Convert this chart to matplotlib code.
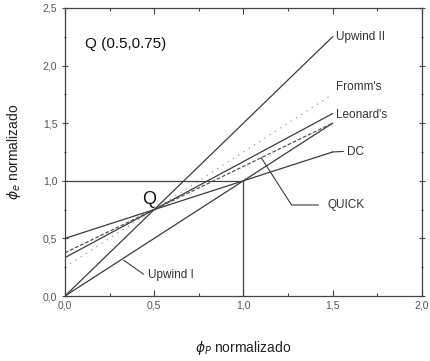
import numpy as np
import matplotlib
matplotlib.use("Agg")
import matplotlib.pyplot as plt
from matplotlib.ticker import MultipleLocator, FuncFormatter

plt.rcParams['font.family'] = ['Liberation Sans', 'DejaVu Sans']

# Normalized-variable schemes: phi_f = intercept + slope * phi_P, drawn on [0, 1.5]
scheme_names = ["Upwind I", "Upwind II", "Fromm's", "Leonard's", "QUICK", "DC"]
intercepts = [0.0, 0.0, 0.25, 1.0 / 3.0, 3.0 / 8.0, 0.5]
slopes = [1.0, 1.5, 1.0, 5.0 / 6.0, 3.0 / 4.0, 0.5]
phi_range = [0.0, 1.5]

q_point = (0.5, 0.75)

line_color = "#3c3c3c"
styles = {
    "Upwind I": dict(color=line_color, lw=0.9, ls="-"),
    "Upwind II": dict(color=line_color, lw=0.9, ls="-"),
    "Fromm's": dict(color="#9a9a9a", lw=0.9, ls=(0, (1, 4))),
    "Leonard's": dict(color=line_color, lw=0.9, ls="-"),
    "QUICK": dict(color="#555555", lw=0.9, ls=(0, (3, 1.5))),
    "DC": dict(color=line_color, lw=0.9, ls="-"),
}

fig = plt.figure(figsize=(4.30, 3.61), dpi=100)
ax = fig.add_axes([0.151, 0.180, 0.830, 0.798])

x = np.array(phi_range)
for name, b, m in zip(scheme_names, intercepts, slopes):
    ax.plot(x, b + m * x, **styles[name])

# Reference lines through (1, 1)
ax.plot([0, 1], [1, 1], color="#444444", lw=0.9)
ax.plot([1, 1], [0, 1], color="#444444", lw=0.9)

txt = dict(color="#333333", fontsize=8.5)

# Labels at the right end of the lines
ax.text(1.52, 2.25, "Upwind II", va="center", ha="left", **txt)
ax.text(1.52, 1.81, "Fromm's", va="center", ha="left", **txt)
ax.text(1.52, 1.57, "Leonard's", va="center", ha="left", **txt)
ax.plot([1.5, 1.56], [1.25, 1.255], color=line_color, lw=0.8)
ax.text(1.58, 1.25, "DC", va="center", ha="left", **txt)

# QUICK callout
ax.plot([1.10, 1.27, 1.42], [1.20, 0.79, 0.79], color=line_color, lw=0.8)
ax.text(1.47, 0.79, "QUICK", va="center", ha="left", **txt)

# Upwind I callout
ax.plot([0.33, 0.44], [0.31, 0.19], color=line_color, lw=0.8)
ax.text(0.465, 0.18, "Upwind I", va="center", ha="left", **txt)

# Point Q
ax.text(q_point[0] - 0.03, q_point[1] + 0.09, "Q", ha="center", va="center",
        fontsize=13, color="#111111")
ax.text(0.11, 2.19, "Q (0.5,0.75)", ha="left", va="center", fontsize=11,
        color="#111111")

ax.set_xlim(0, 2.0)
ax.set_ylim(0, 2.5)
comma = FuncFormatter(lambda v, p: f"{v:.1f}".replace(".", ","))
ax.xaxis.set_major_locator(MultipleLocator(0.5))
ax.xaxis.set_minor_locator(MultipleLocator(0.25))
ax.yaxis.set_major_locator(MultipleLocator(0.5))
ax.yaxis.set_minor_locator(MultipleLocator(0.25))
ax.xaxis.set_major_formatter(comma)
ax.yaxis.set_major_formatter(comma)
ax.tick_params(which="both", direction="in", top=True, right=True,
               colors="#444444", labelcolor="#555555", labelsize=7.5, width=0.8)
ax.tick_params(axis="y", which="both", direction="inout")
ax.tick_params(which="major", length=4)
ax.tick_params(which="minor", length=2)
for s in ax.spines.values():
    s.set_color("#444444")
    s.set_linewidth(0.9)

ax.set_xlabel(r"$\phi_P$ normalizado", fontsize=10, color="#222222", labelpad=20)
ax.set_ylabel(r"$\phi_e$ normalizado", fontsize=10, color="#222222", labelpad=14)

fig.savefig("out.png", dpi=100)
